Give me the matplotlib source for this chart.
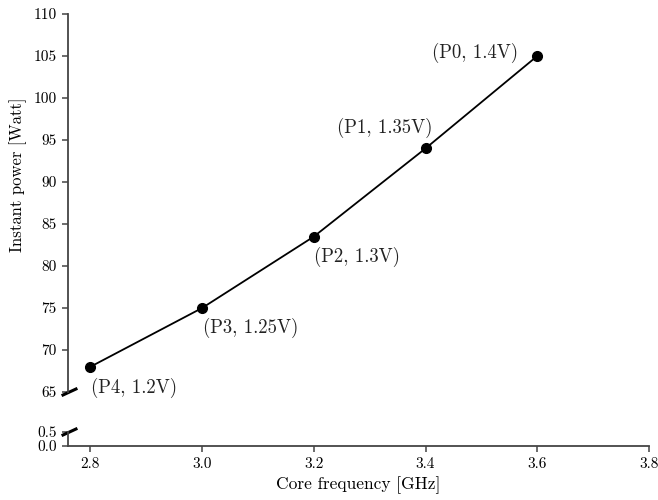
import matplotlib
matplotlib.use("Agg")
import matplotlib.pyplot as plt

plt.rcParams['font.family'] = ['cmr10', 'DejaVu Serif']
plt.rcParams['mathtext.fontset'] = 'cm'
plt.rcParams['axes.unicode_minus'] = False
plt.rcParams['axes.formatter.use_mathtext'] = True

freq = [2.8, 3.0, 3.2, 3.4, 3.6]
power = [68, 75, 83.5, 94, 105]
labels = ["(P4, 1.2V)", "(P3, 1.25V)", "(P2, 1.3V)", "(P1, 1.35V)", "(P0, 1.4V)"]
# label placement: offsets in points
offsets = [(0.5, -15.5), (0.5, -14.5), (0, -14.5), (-64, 14.5), (-76, 2.5)]
xticks = [2.8, 3.0, 3.2, 3.4, 3.6, 3.8]
yticks_top = [65, 70, 75, 80, 85, 90, 95, 100, 105, 110]
yticks_bot = [0.0, 0.5]

W, H = 658, 500
fig = plt.figure(figsize=(W/100, H/100), dpi=100)
left, right = 68/W, 649/W
ax = fig.add_axes([left, 1-392/H, right-left, (392-14)/H])
axb = fig.add_axes([left, 1-446/H, right-left, (446-432)/H], sharex=ax)

spine_c = '#444444'
for a in (ax, axb):
    for s in ('top', 'right'):
        a.spines[s].set_visible(False)
    for s in ('left', 'bottom'):
        a.spines[s].set_color(spine_c)
        a.spines[s].set_linewidth(1.3)
    a.tick_params(colors='black', labelsize=11, length=4.5, width=1.1, direction='out')
    a.tick_params(axis='both', color=spine_c)

ax.spines['bottom'].set_visible(False)
ax.tick_params(axis='x', bottom=False, labelbottom=False)

ax.plot(freq, power, color='black', lw=1.3, marker='o', ms=7, zorder=3, clip_on=False)
for x, y, t, o in zip(freq, power, labels, offsets):
    ax.annotate(t, (x, y), xytext=o, textcoords='offset points', fontsize=13.5,
                ha='left', va='center', color='#222222')

ax.set_xlim(2.76, 3.8)
ax.set_ylim(65, 110)
ax.set_yticks(yticks_top)
ax.set_yticklabels([str(v) for v in yticks_top])
axb.set_ylim(0, 0.5)
axb.set_yticks(yticks_bot)
axb.set_yticklabels(["0.0", "0.5"])
axb.set_xticks(xticks)
axb.set_xticklabels([f"{v:.1f}" for v in xticks])

axb.set_xlabel("Core frequency [GHz]", fontsize=12.5, labelpad=4)
fig.text(18/W, 1-175/H, "Instant power [Watt]", rotation=90, fontsize=12,
         ha='center', va='center')

# break marks on the left spine
for a, yf in ((ax, 0.0), (axb, 1.0)):
    hpx = a.bbox.height
    wpx = a.bbox.width
    a.plot([-5/wpx, 8/wpx], [yf - 3/hpx, yf + 3/hpx],
           transform=a.transAxes, color='black', lw=2.2, clip_on=False)

fig.savefig("out.png", dpi=100)
